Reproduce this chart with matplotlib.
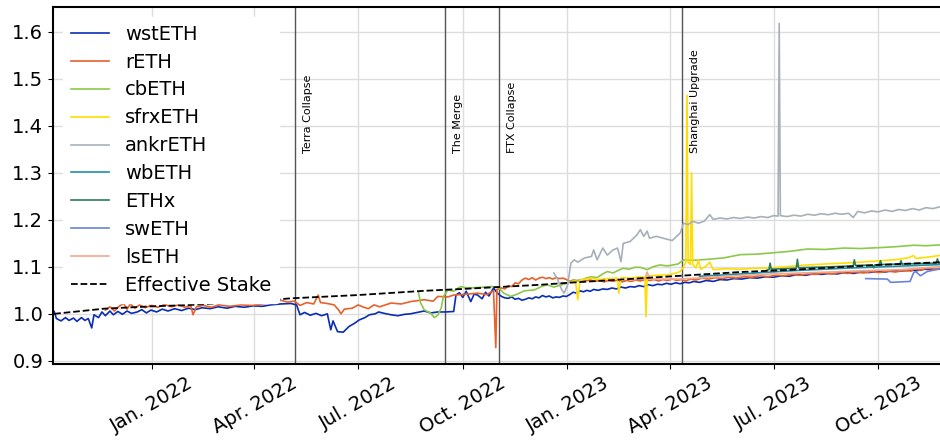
"""LST price ratios against ETH, with key market events marked."""
import pandas as pd
import matplotlib
matplotlib.use("Agg")
import matplotlib.pyplot as plt
import matplotlib.dates as mdates

# (date, ratio) pairs
wsteth = [
    ("2021-10-07", 1.005), ("2021-10-09", 0.990), ("2021-10-13", 0.985), ("2021-10-17", 0.992),
    ("2021-10-20", 0.986), ("2021-10-24", 0.991), ("2021-10-27", 0.984), ("2021-10-31", 0.992),
    ("2021-11-03", 0.986), ("2021-11-06", 0.990), ("2021-11-09", 0.970), ("2021-11-11", 0.998),
    ("2021-11-15", 0.992), ("2021-11-18", 1.004), ("2021-11-21", 0.996), ("2021-11-25", 1.006),
    ("2021-11-28", 0.998), ("2021-12-02", 1.005), ("2021-12-06", 0.999), ("2021-12-10", 1.006),
    ("2021-12-14", 1.001), ("2021-12-19", 1.004), ("2021-12-23", 1.009), ("2021-12-27", 1.002),
    ("2021-12-31", 1.008), ("2022-01-05", 1.004), ("2022-01-10", 1.010), ("2022-01-15", 1.006),
    ("2022-01-21", 1.011), ("2022-01-27", 1.007), ("2022-02-02", 1.012), ("2022-02-08", 1.009),
    ("2022-02-14", 1.013), ("2022-02-21", 1.011), ("2022-02-28", 1.015), ("2022-03-08", 1.012),
    ("2022-03-15", 1.016), ("2022-03-23", 1.014), ("2022-03-31", 1.017), ("2022-04-08", 1.016),
    ("2022-04-15", 1.019), ("2022-04-24", 1.021), ("2022-05-03", 1.022), ("2022-05-08", 1.019),
    ("2022-05-11", 0.998), ("2022-05-15", 1.003), ("2022-05-20", 0.997), ("2022-05-25", 1.001),
    ("2022-05-30", 0.996), ("2022-06-04", 1.000), ("2022-06-07", 0.966), ("2022-06-09", 0.985),
    ("2022-06-13", 0.962), ("2022-06-18", 0.961), ("2022-06-23", 0.973), ("2022-06-28", 0.980),
    ("2022-07-02", 0.987), ("2022-07-07", 0.992), ("2022-07-11", 0.998), ("2022-07-16", 1.000),
    ("2022-07-19", 1.004), ("2022-07-24", 1.001), ("2022-07-30", 0.998), ("2022-08-05", 0.996),
    ("2022-08-11", 0.999), ("2022-08-16", 1.000), ("2022-08-22", 1.003), ("2022-08-28", 1.006),
    ("2022-09-03", 1.002), ("2022-09-09", 1.004), ("2022-09-16", 1.004), ("2022-09-23", 1.005),
    ("2022-09-25", 1.040), ("2022-09-28", 1.045), ("2022-10-01", 1.035), ("2022-10-04", 1.048),
    ("2022-10-08", 1.026), ("2022-10-11", 1.042), ("2022-10-14", 1.040), ("2022-10-18", 1.032),
    ("2022-10-21", 1.046), ("2022-10-24", 1.038), ("2022-10-28", 1.055), ("2022-10-31", 1.045),
    ("2022-11-04", 1.037), ("2022-11-07", 1.034), ("2022-11-10", 1.033), ("2022-11-13", 1.036),
    ("2022-11-16", 1.031), ("2022-11-19", 1.033), ("2022-11-22", 1.029), ("2022-11-25", 1.031),
    ("2022-11-28", 1.034), ("2022-12-01", 1.032), ("2022-12-04", 1.036), ("2022-12-07", 1.034),
    ("2022-12-10", 1.039), ("2022-12-13", 1.036), ("2022-12-16", 1.038), ("2022-12-19", 1.034),
    ("2022-12-22", 1.036), ("2022-12-25", 1.035), ("2022-12-28", 1.038), ("2022-12-31", 1.037),
    ("2023-01-03", 1.041), ("2023-01-06", 1.046), ("2023-01-09", 1.044), ("2023-01-12", 1.049),
    ("2023-01-15", 1.047), ("2023-01-18", 1.050), ("2023-01-21", 1.048), ("2023-01-24", 1.052),
    ("2023-01-28", 1.050), ("2023-02-01", 1.053), ("2023-02-05", 1.052), ("2023-02-09", 1.055),
    ("2023-02-13", 1.053), ("2023-02-17", 1.057), ("2023-02-21", 1.055), ("2023-02-25", 1.058),
    ("2023-03-01", 1.057), ("2023-03-05", 1.060), ("2023-03-09", 1.058), ("2023-03-13", 1.062),
    ("2023-03-17", 1.060), ("2023-03-21", 1.063), ("2023-03-25", 1.062), ("2023-03-29", 1.065),
    ("2023-04-02", 1.063), ("2023-04-06", 1.066), ("2023-04-10", 1.064), ("2023-04-14", 1.067),
    ("2023-04-18", 1.066), ("2023-04-22", 1.069), ("2023-04-27", 1.067), ("2023-05-03", 1.071),
    ("2023-05-09", 1.069), ("2023-05-15", 1.073), ("2023-05-21", 1.072), ("2023-05-27", 1.075),
    ("2023-06-03", 1.074), ("2023-06-10", 1.077), ("2023-06-17", 1.076), ("2023-06-24", 1.079),
    ("2023-07-01", 1.078), ("2023-07-08", 1.081), ("2023-07-15", 1.080), ("2023-07-22", 1.084),
    ("2023-07-29", 1.082), ("2023-08-05", 1.085), ("2023-08-12", 1.084), ("2023-08-19", 1.086),
    ("2023-08-26", 1.085), ("2023-09-02", 1.088), ("2023-09-09", 1.086), ("2023-09-16", 1.089),
    ("2023-09-23", 1.088), ("2023-09-30", 1.090), ("2023-10-07", 1.089), ("2023-10-14", 1.092),
    ("2023-10-21", 1.091), ("2023-10-28", 1.093), ("2023-11-04", 1.092), ("2023-11-11", 1.095),
    ("2023-11-18", 1.094), ("2023-11-26", 1.096),
]

reth = [
    ("2021-11-21", 1.008), ("2021-11-25", 1.015), ("2021-11-29", 1.006), ("2021-12-03", 1.016),
    ("2021-12-07", 1.022), ("2021-12-10", 1.010), ("2021-12-13", 1.021), ("2021-12-17", 1.012),
    ("2021-12-21", 1.019), ("2021-12-26", 1.013), ("2021-12-31", 1.018), ("2022-01-06", 1.014),
    ("2022-01-12", 1.020), ("2022-01-18", 1.015), ("2022-01-24", 1.019), ("2022-01-30", 1.014),
    ("2022-02-04", 1.018), ("2022-02-06", 0.998), ("2022-02-09", 1.015), ("2022-02-15", 1.018),
    ("2022-02-22", 1.014), ("2022-03-01", 1.019), ("2022-03-10", 1.016), ("2022-03-20", 1.019),
    ("2022-03-30", 1.018), ("2022-04-08", 1.021), ("2022-04-16", 1.024), ("2022-04-24", 1.029),
    ("2022-04-30", 1.025), ("2022-05-06", 1.027), ("2022-05-11", 1.018), ("2022-05-17", 1.024),
    ("2022-05-23", 1.021), ("2022-05-27", 1.040), ("2022-05-29", 1.024), ("2022-06-04", 1.022),
    ("2022-06-10", 1.019), ("2022-06-14", 1.008), ("2022-06-16", 1.000), ("2022-06-19", 1.010),
    ("2022-06-26", 1.012), ("2022-07-01", 1.019), ("2022-07-06", 1.014), ("2022-07-10", 1.011),
    ("2022-07-15", 1.019), ("2022-07-20", 1.015), ("2022-07-30", 1.023), ("2022-08-08", 1.021),
    ("2022-08-16", 1.026), ("2022-08-28", 1.030), ("2022-09-05", 1.027), ("2022-09-09", 1.037),
    ("2022-09-18", 1.036), ("2022-09-23", 1.040), ("2022-10-05", 1.042), ("2022-10-14", 1.044),
    ("2022-10-22", 1.041), ("2022-10-28", 1.049), ("2022-10-30", 0.928), ("2022-10-31", 1.052),
    ("2022-11-04", 1.055), ("2022-11-07", 1.053), ("2022-11-10", 1.060), ("2022-11-13", 1.058),
    ("2022-11-16", 1.066), ("2022-11-19", 1.064), ("2022-11-22", 1.072), ("2022-11-25", 1.076),
    ("2022-11-28", 1.073), ("2022-12-01", 1.077), ("2022-12-04", 1.072), ("2022-12-07", 1.076),
    ("2022-12-10", 1.078), ("2022-12-13", 1.075), ("2022-12-16", 1.077), ("2022-12-19", 1.074),
    ("2022-12-22", 1.077), ("2022-12-25", 1.075), ("2022-12-28", 1.076), ("2022-12-31", 1.073),
    ("2023-01-03", 1.069), ("2023-01-06", 1.072), ("2023-01-09", 1.070), ("2023-01-13", 1.073),
    ("2023-01-17", 1.070), ("2023-01-21", 1.072), ("2023-01-25", 1.069), ("2023-01-29", 1.071),
    ("2023-02-02", 1.068), ("2023-02-06", 1.071), ("2023-02-10", 1.069), ("2023-02-14", 1.072),
    ("2023-02-18", 1.068), ("2023-02-22", 1.071), ("2023-02-26", 1.069), ("2023-03-02", 1.072),
    ("2023-03-06", 1.070), ("2023-03-10", 1.073), ("2023-03-14", 1.071), ("2023-03-18", 1.073),
    ("2023-03-22", 1.070), ("2023-03-26", 1.073), ("2023-03-30", 1.071), ("2023-04-03", 1.074),
    ("2023-04-07", 1.071), ("2023-04-11", 1.073), ("2023-04-15", 1.070), ("2023-04-19", 1.074),
    ("2023-04-24", 1.072), ("2023-04-29", 1.076), ("2023-05-05", 1.074), ("2023-05-11", 1.077),
    ("2023-05-17", 1.075), ("2023-05-23", 1.078), ("2023-05-29", 1.076), ("2023-06-05", 1.079),
    ("2023-06-12", 1.078), ("2023-06-19", 1.081), ("2023-06-26", 1.079), ("2023-07-03", 1.082),
    ("2023-07-10", 1.081), ("2023-07-17", 1.084), ("2023-07-24", 1.082), ("2023-07-31", 1.085),
    ("2023-08-07", 1.084), ("2023-08-14", 1.087), ("2023-08-21", 1.085), ("2023-08-28", 1.088),
    ("2023-09-04", 1.086), ("2023-09-11", 1.089), ("2023-09-18", 1.087), ("2023-09-25", 1.090),
    ("2023-10-02", 1.088), ("2023-10-09", 1.091), ("2023-10-16", 1.089), ("2023-10-23", 1.092),
    ("2023-10-30", 1.091), ("2023-11-02", 1.096), ("2023-11-06", 1.093), ("2023-11-13", 1.097),
    ("2023-11-20", 1.095), ("2023-11-26", 1.098),
]

cbeth = [
    ("2022-08-23", 1.046), ("2022-08-25", 1.023), ("2022-08-28", 1.009), ("2022-09-03", 1.001),
    ("2022-09-06", 0.992), ("2022-09-09", 0.997), ("2022-09-12", 1.012), ("2022-09-14", 1.037),
    ("2022-09-18", 1.051), ("2022-09-23", 1.048), ("2022-09-29", 1.058), ("2022-10-05", 1.055),
    ("2022-10-14", 1.056), ("2022-10-26", 1.058), ("2022-11-01", 1.057), ("2022-11-06", 1.044),
    ("2022-11-12", 1.037), ("2022-11-18", 1.042), ("2022-11-24", 1.049), ("2022-12-03", 1.051),
    ("2022-12-09", 1.058), ("2022-12-14", 1.062), ("2022-12-20", 1.057), ("2022-12-27", 1.062),
    ("2023-01-02", 1.066), ("2023-01-07", 1.072), ("2023-01-12", 1.070), ("2023-01-17", 1.076),
    ("2023-01-22", 1.079), ("2023-01-27", 1.077), ("2023-02-01", 1.085), ("2023-02-05", 1.090),
    ("2023-02-10", 1.087), ("2023-02-15", 1.093), ("2023-02-19", 1.097), ("2023-02-24", 1.095),
    ("2023-03-01", 1.099), ("2023-03-06", 1.099), ("2023-03-12", 1.094), ("2023-03-17", 1.100),
    ("2023-03-23", 1.104), ("2023-03-30", 1.102), ("2023-04-08", 1.106), ("2023-04-13", 1.115),
    ("2023-04-22", 1.114), ("2023-05-04", 1.116), ("2023-05-18", 1.119), ("2023-06-02", 1.126),
    ("2023-06-16", 1.127), ("2023-07-01", 1.130), ("2023-07-15", 1.133), ("2023-07-31", 1.138),
    ("2023-08-15", 1.137), ("2023-09-01", 1.140), ("2023-09-15", 1.139), ("2023-10-03", 1.141),
    ("2023-10-17", 1.143), ("2023-11-01", 1.146), ("2023-11-12", 1.145), ("2023-11-26", 1.147),
]

sfrxeth = [
    ("2023-01-04", 1.068), ("2023-01-08", 1.070), ("2023-01-10", 1.030), ("2023-01-12", 1.072),
    ("2023-01-17", 1.074), ("2023-01-22", 1.076), ("2023-01-28", 1.073), ("2023-02-05", 1.075),
    ("2023-02-14", 1.076), ("2023-02-15", 1.044), ("2023-02-17", 1.077), ("2023-02-25", 1.076),
    ("2023-03-06", 1.079), ("2023-03-10", 1.078), ("2023-03-11", 0.994), ("2023-03-12", 1.080),
    ("2023-03-20", 1.082), ("2023-03-30", 1.083), ("2023-04-05", 1.086), ("2023-04-10", 1.090),
    ("2023-04-13", 1.100), ("2023-04-15", 1.110), ("2023-04-16", 1.465), ("2023-04-17", 1.110),
    ("2023-04-19", 1.105), ("2023-04-20", 1.300), ("2023-04-21", 1.105), ("2023-04-24", 1.098),
    ("2023-04-26", 1.115), ("2023-04-28", 1.095), ("2023-05-02", 1.100), ("2023-05-06", 1.110),
    ("2023-05-09", 1.094), ("2023-05-20", 1.096), ("2023-06-02", 1.095), ("2023-06-15", 1.097),
    ("2023-07-01", 1.098), ("2023-07-15", 1.101), ("2023-07-31", 1.104), ("2023-08-15", 1.106),
    ("2023-09-01", 1.108), ("2023-09-15", 1.110), ("2023-10-03", 1.113), ("2023-10-15", 1.115),
    ("2023-10-27", 1.119), ("2023-11-01", 1.124), ("2023-11-03", 1.118), ("2023-11-15", 1.121),
    ("2023-11-26", 1.125),
]

ankreth = [
    ("2022-12-20", 1.087), ("2022-12-23", 1.075), ("2022-12-27", 1.051), ("2022-12-29", 1.044),
    ("2023-01-01", 1.060), ("2023-01-04", 1.108), ("2023-01-07", 1.115), ("2023-01-10", 1.110),
    ("2023-01-16", 1.119), ("2023-01-22", 1.122), ("2023-01-24", 1.136), ("2023-01-27", 1.115),
    ("2023-02-01", 1.140), ("2023-02-05", 1.125), ("2023-02-10", 1.136), ("2023-02-14", 1.140),
    ("2023-02-17", 1.111), ("2023-02-19", 1.150), ("2023-02-25", 1.154), ("2023-03-03", 1.168),
    ("2023-03-06", 1.179), ("2023-03-09", 1.165), ("2023-03-12", 1.176), ("2023-03-14", 1.161),
    ("2023-03-20", 1.165), ("2023-03-26", 1.161), ("2023-04-03", 1.156), ("2023-04-10", 1.172),
    ("2023-04-13", 1.193), ("2023-04-17", 1.190), ("2023-04-21", 1.197), ("2023-04-26", 1.193),
    ("2023-05-01", 1.197), ("2023-05-06", 1.211), ("2023-05-09", 1.201), ("2023-05-15", 1.204),
    ("2023-05-21", 1.202), ("2023-05-27", 1.205), ("2023-06-02", 1.203), ("2023-06-08", 1.206),
    ("2023-06-14", 1.204), ("2023-06-20", 1.207), ("2023-06-26", 1.205), ("2023-07-01", 1.209),
    ("2023-07-05", 1.208), ("2023-07-06", 1.618), ("2023-07-07", 1.209), ("2023-07-13", 1.207),
    ("2023-07-19", 1.210), ("2023-07-25", 1.208), ("2023-07-31", 1.212), ("2023-08-06", 1.210),
    ("2023-08-12", 1.213), ("2023-08-18", 1.211), ("2023-08-24", 1.214), ("2023-08-30", 1.212),
    ("2023-09-05", 1.214), ("2023-09-09", 1.205), ("2023-09-13", 1.218), ("2023-09-19", 1.215),
    ("2023-09-25", 1.219), ("2023-10-01", 1.217), ("2023-10-07", 1.221), ("2023-10-13", 1.218),
    ("2023-10-19", 1.222), ("2023-10-25", 1.220), ("2023-10-31", 1.224), ("2023-11-06", 1.221),
    ("2023-11-12", 1.226), ("2023-11-18", 1.224), ("2023-11-26", 1.229),
]

wbeth = [
    ("2023-04-27", 1.080), ("2023-06-02", 1.085), ("2023-07-19", 1.092), ("2023-09-01", 1.097),
    ("2023-10-14", 1.101), ("2023-11-26", 1.105),
]

ethx = [
    ("2023-06-25", 1.093), ("2023-06-27", 1.094), ("2023-06-28", 1.108), ("2023-06-29", 1.095),
    ("2023-07-21", 1.097), ("2023-07-22", 1.116), ("2023-07-23", 1.098), ("2023-08-18", 1.100),
    ("2023-09-09", 1.102), ("2023-09-10", 1.115), ("2023-09-11", 1.103), ("2023-09-26", 1.104),
    ("2023-09-27", 1.098), ("2023-09-28", 1.104), ("2023-10-02", 1.105), ("2023-10-03", 1.113),
    ("2023-10-04", 1.105), ("2023-10-20", 1.106), ("2023-10-21", 1.113), ("2023-10-22", 1.106),
    ("2023-11-21", 1.108), ("2023-11-22", 1.117), ("2023-11-23", 1.108), ("2023-11-26", 1.109),
]

sweth = [
    ("2023-09-20", 1.075), ("2023-10-09", 1.074), ("2023-10-12", 1.067), ("2023-10-29", 1.069),
    ("2023-11-01", 1.087), ("2023-11-03", 1.090), ("2023-11-07", 1.081), ("2023-11-13", 1.090),
    ("2023-11-26", 1.097),
]

lseth = [
    ("2023-02-25", 1.072), ("2023-03-10", 1.075), ("2023-03-12", 1.089), ("2023-03-14", 1.074),
    ("2023-04-10", 1.074), ("2023-05-21", 1.080), ("2023-07-01", 1.085), ("2023-08-18", 1.089),
    ("2023-09-20", 1.092), ("2023-10-21", 1.094), ("2023-11-26", 1.101),
]

effective_stake = [
    ("2021-10-07", 1.000), ("2021-11-20", 1.011), ("2022-01-01", 1.016), ("2022-02-04", 1.019),
    ("2022-04-01", 1.027), ("2022-05-03", 1.033), ("2022-07-01", 1.040), ("2022-08-28", 1.049),
    ("2022-10-01", 1.053), ("2022-11-01", 1.057), ("2022-12-09", 1.062), ("2023-01-01", 1.066),
    ("2023-02-17", 1.073), ("2023-04-10", 1.081), ("2023-06-02", 1.089), ("2023-07-19", 1.094),
    ("2023-10-01", 1.104), ("2023-11-26", 1.110),
]

series = [
    ("wstETH", wsteth, "#0a2db4"),
    ("rETH", reth, "#e8602c"),
    ("cbETH", cbeth, "#8cc84b"),
    ("sfrxETH", sfrxeth, "#ffdd00"),
    ("ankrETH", ankreth, "#a7b0ba"),
    ("wbETH", wbeth, "#1f8fae"),
    ("ETHx", ethx, "#2b7d5a"),
    ("swETH", sweth, "#6a84d6"),
    ("lsETH", lseth, "#f2a98a"),
]

events = [
    ("Terra Collapse", "2022-05-07"),
    ("The Merge", "2022-09-15"),
    ("FTX Collapse", "2022-11-02"),
    ("Shanghai Upgrade", "2023-04-12"),
]


def to_frame(pairs):
    df = pd.DataFrame(pairs, columns=["date", "value"])
    df["date"] = pd.to_datetime(df["date"])
    return df


fig = plt.figure(figsize=(9.4, 4.41), dpi=100)
# right edge sits just past the canvas, like the cropped original
ax = fig.add_axes([0.0564, 0.175, 0.9457, 0.809])

# event markers
for label, day in events:
    d = pd.Timestamp(day)
    ax.axvline(d, color="#555555", lw=1.0, zorder=1)
    ax.text(d + pd.Timedelta(days=7), 1.343, label, rotation=90,
            ha="left", va="bottom", fontsize=8)

for name, pairs, color in series:
    df = to_frame(pairs)
    ax.plot(df["date"], df["value"], color=color, lw=1.2, label=name, zorder=2)

eff = to_frame(effective_stake)
ax.plot(eff["date"], eff["value"], color="black", ls="--", lw=1.3,
        label="Effective Stake", zorder=3)

ax.set_xlim(pd.Timestamp("2021-10-06"), pd.Timestamp("2023-11-26"))
ax.set_ylim(0.8936, 1.653)
ax.set_yticks([0.9, 1.0, 1.1, 1.2, 1.3, 1.4, 1.5, 1.6])
ax.xaxis.set_major_locator(mdates.MonthLocator(bymonth=[1, 4, 7, 10]))
ax.xaxis.set_major_formatter(mdates.DateFormatter("%b. %Y"))
ax.tick_params(labelsize=14)
plt.setp(ax.get_xticklabels(), rotation=30, ha="center")
ax.grid(True, color="#dddddd", lw=1.0)
ax.set_axisbelow(True)
for sp in ax.spines.values():
    sp.set_linewidth(1.5)

leg = ax.legend(loc="upper left", fontsize=14, framealpha=1.0, labelspacing=0.46)
leg.get_frame().set_edgecolor("white")

fig.savefig("out.png", dpi=100)
